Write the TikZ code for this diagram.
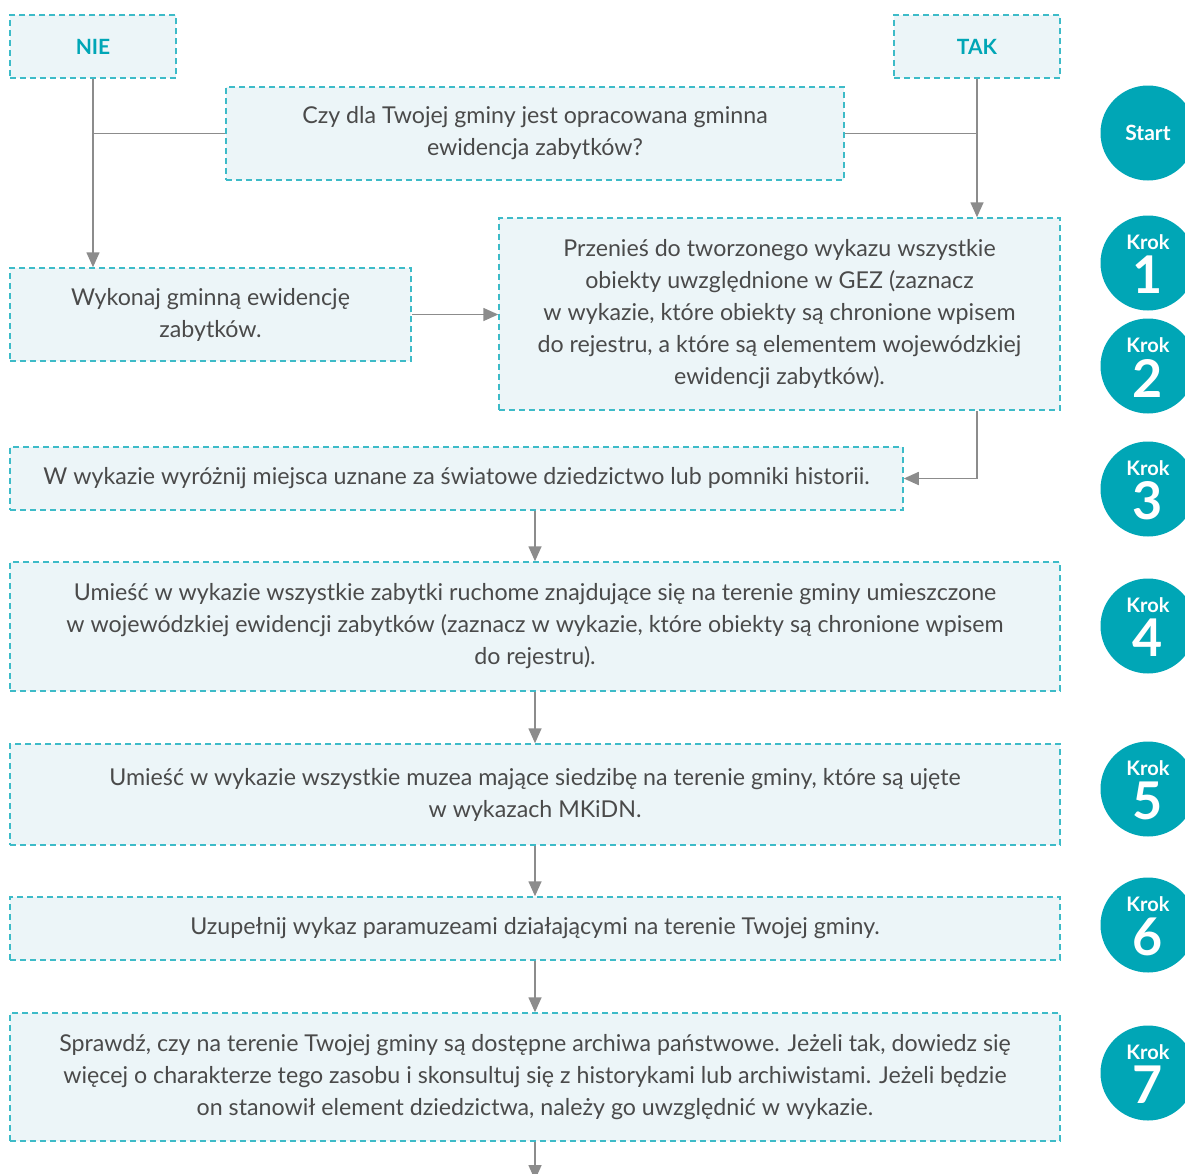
\documentclass[tikz,border=0pt]{standalone}
\usepackage{fontspec}
\setmainfont{Lato}
\usetikzlibrary{arrows.meta}
\definecolor{teal}{HTML}{00A6B6}
\definecolor{dashteal}{HTML}{3DBBC8}
\definecolor{boxfill}{HTML}{ECF5F8}
\definecolor{linegray}{HTML}{8C8C8C}
\definecolor{txtgray}{HTML}{4A4A4A}
\tikzset{
  box/.style={draw=dashteal, fill=boxfill, line width=0.75pt, dash pattern=on 3pt off 2pt,
    inner sep=0pt, align=center, text=txtgray, font=\fontsize{11.6}{16}\selectfont},
  answer/.style={box, minimum width=83pt, minimum height=31.5pt, text=teal, font=\bfseries\fontsize{10.5}{12}\selectfont},
  link/.style={draw=linegray, line width=0.8pt},
  arr/.style={link, -{Triangle[length=7.5pt,width=6.5pt]}},
  krokdot/.style={circle, fill=teal, minimum size=47.5pt, inner sep=0pt},
  kroklabel/.style={text=white, font=\bfseries\fontsize{10}{10}\selectfont, inner sep=0pt},
  krokdigit/.style={text=white, font=\bfseries\fontsize{26}{26}\selectfont, inner sep=0pt}
}
\begin{document}
\begin{tikzpicture}[x=0.5pt, y=-0.5pt]
            \useasboundingbox (0,0) rectangle (1185,1174);
            \clip (0,0) rectangle (1185,1174);
            \node[answer] (nie) at (93,46.5) {NIE};
            \node[answer] (tak) at (977,46.5) {TAK};
            \node[box, minimum width=309pt, minimum height=46.5pt] (q) at (535,133.5)
              {Czy dla Twojej gminy jest opracowana gminna\\ewidencja zabytków?};
            \node[box, minimum width=200.5pt, minimum height=46.5pt] (wyk) at (210.5,314.5)
              {Wykonaj gminną ewidencję\\zabytków.};
            \node[box, minimum width=280.5pt, minimum height=96pt] (prz) at (779.5,314)
              {Przenieś do tworzonego wykazu wszystkie\\obiekty uwzględnione w GEZ (zaznacz\\w wykazie, które obiekty są chronione wpisem\\do rejestru, a które są elementem wojewódzkiej\\ewidencji zabytków).};
            \node[box, minimum width=446.5pt, minimum height=31.5pt] (k3) at (456.5,478.5)
              {W wykazie wyróżnij miejsca uznane za światowe dziedzictwo lub pomniki historii.};
            \node[box, minimum width=525pt, minimum height=64.5pt] (k4) at (535,626.5)
              {Umieść w wykazie wszystkie zabytki ruchome znajdujące się na terenie gminy umieszczone\\w wojewódzkiej ewidencji zabytków (zaznacz w wykazie, które obiekty są chronione wpisem\\do rejestru).};
            \node[box, minimum width=525pt, minimum height=50.5pt] (k5) at (535,794.5)
              {Umieść w wykazie wszystkie muzea mające siedzibę na terenie gminy, które są ujęte\\w wykazach MKiDN.};
            \node[box, minimum width=525pt, minimum height=31.5pt] (k6) at (535,928.5)
              {Uzupełnij wykaz paramuzeami działającymi na terenie Twojej gminy.};
            \node[box, minimum width=525pt, minimum height=64pt] (k7) at (535,1077)
              {Sprawdź, czy na terenie Twojej gminy są dostępne archiwa państwowe. Jeżeli tak, dowiedz się\\więcej o charakterze tego zasobu i skonsultuj się z historykami lub archiwistami. Jeżeli będzie\\on stanowił element dziedzictwa, należy go uwzględnić w wykazie.};
            \coordinate (end) at (535,1180);
            \draw[arr] (nie.south) -- (nie.south |- wyk.north);
            \draw[link] (q.west) -- (q.west -| nie.south);
            \draw[arr] (tak.south) -- (tak.south |- prz.north);
            \draw[link] (q.east) -- (q.east -| tak.south);
            \draw[arr] (wyk.east) -- (wyk.east -| prz.west);
            \draw[arr] (prz.south -| tak.south) |- (k3.east);
            \draw[arr] (k3.south -| k4.north) -- (k4.north);
            \draw[arr] (k4) -- (k5);
            \draw[arr] (k5) -- (k6);
            \draw[arr] (k6) -- (k7);
            \draw[arr] (k7) -- (end);
            \node[krokdot] (start) at (1148,133) {};
            \node[text=white, font=\bfseries\fontsize{10.5}{12}\selectfont] (startlabel) at (start) {Start};
            \foreach \n/\y in {1/263, 2/366, 3/489, 4/626, 5/789, 6/925, 7/1073} {
              \node[krokdot] (c\n) at (1148,\y) {};
              \node[kroklabel] (c\n label) at (1148,\y-21) {Krok};
              \node[krokdigit] (c\n digit) at (1148,\y+12) {\n};
            }
        \end{tikzpicture}
\end{document}
